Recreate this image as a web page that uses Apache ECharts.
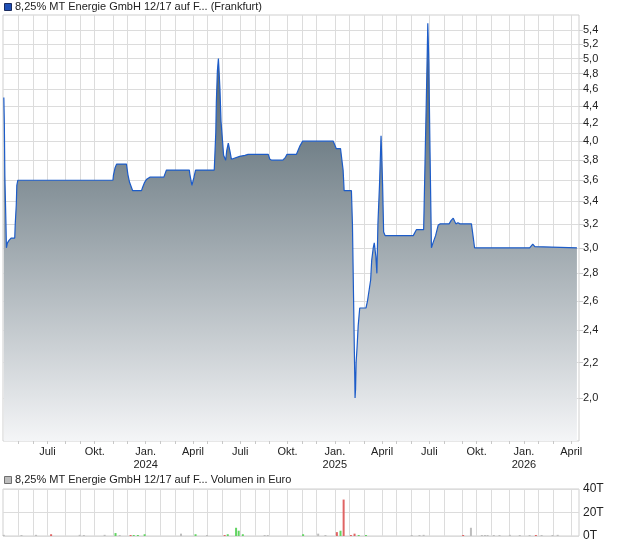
<!DOCTYPE html>
<html>
<head>
<meta charset="utf-8">
<script src="https://cdn.jsdelivr.net/npm/echarts@6/dist/echarts.min.js"></script>
<style>
html,body{margin:0;padding:0;background:#fff;}
#c{width:620px;height:546px;}
</style>
</head>
<body>
<div id="c"></div>
<script>
// ---- price data ----
const priceDates = [
'2023-04-10','2023-04-11','2023-04-12','2023-04-14','2023-04-15','2023-04-17','2023-04-20','2023-04-24','2023-05-01','2023-05-02','2023-05-04','2023-05-05','2023-05-07',
'2023-11-06','2023-11-07','2023-11-10','2023-11-13','2023-12-02','2023-12-05','2023-12-08','2023-12-14','2023-12-31',
'2024-01-02','2024-01-06','2024-01-10','2024-01-16','2024-02-12','2024-02-14','2024-02-17','2024-04-01','2024-04-02','2024-04-06','2024-04-10','2024-04-13','2024-05-19','2024-05-20','2024-05-22','2024-05-23','2024-05-25','2024-05-27','2024-05-28','2024-05-30','2024-06-01','2024-06-04','2024-06-06','2024-06-10','2024-06-12','2024-06-15','2024-06-18','2024-06-21','2024-06-24','2024-07-07','2024-07-17','2024-07-23','2024-08-31','2024-09-03','2024-09-07','2024-09-28','2024-10-03','2024-10-06','2024-10-24','2024-10-25','2024-10-31','2024-11-05',
'2025-01-03','2025-01-09','2025-01-17','2025-01-19','2025-01-22','2025-01-24','2025-02-07','2025-02-09','2025-02-11','2025-02-13','2025-02-14','2025-02-15','2025-02-16','2025-02-18','2025-02-20','2025-02-23','2025-03-07','2025-03-10','2025-03-12','2025-03-16','2025-03-18','2025-03-21','2025-03-23','2025-03-26','2025-03-28','2025-03-30','2025-04-02','2025-04-05','2025-04-08','2025-04-10','2025-04-13','2025-06-06','2025-06-12','2025-06-26','2025-06-27','2025-06-29','2025-07-01','2025-07-03','2025-07-04','2025-07-06','2025-07-08','2025-07-10','2025-07-11','2025-07-14','2025-07-19','2025-07-24','2025-07-28','2025-08-14','2025-08-18','2025-08-22','2025-08-27','2025-08-31','2025-09-04','2025-09-26','2025-09-29','2025-10-02',
'2026-01-16','2026-01-19','2026-01-22','2026-01-26','2026-01-29','2026-04-17'
];
const prices = [
4.5,4.18,3.64,3.22,3.0,3.04,3.06,3.08,3.08,3.2,3.37,3.55,3.6,
3.6,3.65,3.72,3.76,3.76,3.65,3.58,3.5,3.5,
3.53,3.58,3.61,3.63,3.63,3.66,3.7,3.7,3.66,3.55,3.63,3.7,3.7,3.83,4.1,4.44,4.83,5.0,4.87,4.6,4.22,4.0,3.85,3.8,3.9,3.98,3.9,3.81,3.82,3.84,3.85,3.86,3.86,3.81,3.8,3.8,3.83,3.86,3.86,3.88,3.95,4.0,
4.0,3.92,3.92,3.92,3.7,3.5,3.5,3.19,2.65,2.2,2.0,2.05,2.2,2.3,2.43,2.55,2.55,2.6,2.65,2.75,2.9,3.0,3.04,2.93,2.8,3.2,3.55,4.06,3.56,3.13,3.1,3.1,3.15,3.15,3.37,3.87,4.42,5.1,5.5,4.95,4.0,3.3,3.0,3.04,3.1,3.19,3.2,3.2,3.23,3.25,3.2,3.21,3.2,3.2,3.1,3.0,
3.0,3.01,3.03,3.01,3.0,3.0
];

// ---- volume data (thousand euro) ----
const volDates = ['2023-04-10','2023-05-14','2023-06-11','2023-07-10','2023-09-03','2023-09-11','2023-10-21','2023-11-11','2023-11-19','2023-12-10','2023-12-16','2023-12-24',
'2024-01-06','2024-03-16','2024-04-13','2024-05-05','2024-06-08','2024-06-14','2024-06-30','2024-07-05','2024-07-13','2024-08-24','2024-08-30','2024-11-06','2024-12-05','2024-12-19',
'2025-01-10','2025-01-17','2025-01-23','2025-02-06','2025-02-13','2025-02-21','2025-03-07','2025-06-03','2025-06-18','2025-06-26','2025-09-10','2025-09-25','2025-10-16','2025-10-22','2025-10-27','2025-11-08','2025-11-19','2025-12-09','2025-12-28',
'2026-01-16','2026-01-28','2026-02-08','2026-03-01','2026-03-11'];
const volValues = [1,0.5,1,1.5,1,0.5,1,2.5,0.5,0.7,0.5,0.5,
1.5,2,1.5,0.3,0.5,1.5,7,4.5,1.5,0.5,0.5,1.5,2,0.4,
3.3,4.5,31,0.5,2,0.5,0.5,0.5,0.5,1,0.7,7,0.7,0.7,0.5,0.5,0.5,1,0.5,
0.5,0.5,0.5,0.5,1];
const volDir = ['n','n','n','r','n','n','n','g','n','r','g','g',
'g','n','g','n','r','g','g','g','g','n','n','g','n','n',
'r','g','r','r','r','g','g','n','n','n','r','n','n','n','n','n','n','n','n',
'n','r','n','n','n'];

// ---- axis ticks ----
const yTickValues = [2.0,2.2,2.4,2.6,2.8,3.0,3.2,3.4,3.6,3.8,4.0,4.2,4.4,4.6,4.8,5.0,5.2,5.4];
const xLabelDates = ['2023-07-03','2023-10-02','2024-01-08','2024-04-08','2024-07-08','2024-10-07','2025-01-06','2025-04-07','2025-07-07','2025-10-06','2026-01-05','2026-04-06'];
const xLabelTexts = ['Juli','Okt.','Jan.\n2024','April','Juli','Okt.','Jan.\n2025','April','Juli','Okt.','Jan.\n2026','April'];
const monthTickDates = ['2023-05-08','2023-06-05','2023-07-03','2023-08-07','2023-09-04','2023-10-02','2023-11-06','2023-12-04',
'2024-01-08','2024-02-05','2024-03-04','2024-04-08','2024-05-06','2024-06-03','2024-07-08','2024-08-05','2024-09-02','2024-10-07','2024-11-04','2024-12-02',
'2025-01-06','2025-02-03','2025-03-03','2025-04-07','2025-05-05','2025-06-02','2025-07-07','2025-08-04','2025-09-08','2025-10-06','2025-11-03','2025-12-08',
'2026-01-05','2026-02-02','2026-03-02','2026-04-06'];
const volTickValues = [0,20,40];

const ts = d => Date.UTC(+d.slice(0,4), +d.slice(5,7) - 1, +d.slice(8,10));
const xMin = ts('2023-04-08') + 10 * 3600e3;
const xMax = ts('2026-04-21');
const yMin = 0.57712, yMax = 1.7269; // natural log range

const FONT = '"Liberation Sans", Arial, sans-serif';
const labelTs = xLabelDates.map(ts);
const monthTs = monthTickDates.map(ts);

const priceData = priceDates.map((d, i) => [ts(d), Math.log(prices[i])]);
const dirColor = {g: '#62d462', r: '#e06464', n: '#bdbdbd'};
const volData = volDates.map((d, i) => ({value: [ts(d), volValues[i]], itemStyle: {color: dirColor[volDir[i]]}}));

const chart = echarts.init(document.getElementById('c'), null, {renderer: 'canvas'});
chart.setOption({
  animation: false,
  backgroundColor: '#fff',
  textStyle: {fontFamily: FONT},
  grid: [
    {left: 3, right: 41, top: 15, height: 426, show: true, borderColor: '#cfcfcf', borderWidth: 1, backgroundColor: 'transparent'},
    {left: 3, right: 41, top: 489, height: 47, show: true, borderColor: '#cfcfcf', borderWidth: 1, backgroundColor: 'transparent'}
  ],
  xAxis: [
    {type: 'value', gridIndex: 0, min: xMin, max: xMax, scale: true,
     axisLine: {show: false},
     axisTick: {show: true, length: 3, lineStyle: {color: '#c8c8c8'}, customValues: monthTs},
     splitLine: {show: true, lineStyle: {color: '#dcdcdc', width: 1}},
     axisLabel: {customValues: labelTs, margin: 4, color: '#222', fontSize: 11, fontFamily: FONT, lineHeight: 13,
       formatter: function (v) { const i = labelTs.indexOf(v); return i >= 0 ? xLabelTexts[i] : ''; }}
    },
    {type: 'value', gridIndex: 1, min: xMin, max: xMax, scale: true,
     axisLine: {show: false},
     axisTick: {show: false, customValues: monthTs},
     splitLine: {show: true, lineStyle: {color: '#dcdcdc', width: 1}},
     axisLabel: {show: false}
    }
  ],
  yAxis: [
    {type: 'value', gridIndex: 0, position: 'right', min: yMin, max: yMax, scale: true,
     axisLine: {show: false},
     axisTick: {show: true, length: 4, lineStyle: {color: '#cfcfcf'}, customValues: yTickValues.map(Math.log)},
     splitLine: {show: true, lineStyle: {color: '#dcdcdc', width: 1}},
     axisLabel: {customValues: yTickValues.map(Math.log), margin: 4, color: '#222', fontSize: 11, fontFamily: FONT,
       formatter: function (v) { return Math.exp(v).toFixed(1).replace('.', ','); }}
    },
    {type: 'value', gridIndex: 1, position: 'right', min: 0, max: 40, interval: 20,
     axisLine: {show: false},
     axisTick: {show: false},
     splitLine: {show: true, lineStyle: {color: '#dcdcdc', width: 1}},
     axisLabel: {margin: 4, color: '#222', fontSize: 12, fontFamily: FONT, formatter: function (v) { return v + 'T'; }}
    }
  ],
  series: [
    {type: 'line', xAxisIndex: 0, yAxisIndex: 0, data: priceData, showSymbol: false, symbol: 'none',
     lineStyle: {color: '#1d5cc8', width: 1.2},
     areaStyle: {color: new echarts.graphic.LinearGradient(0, 0, 0, 1, [
       {offset: 0, color: '#4a5a64'}, {offset: 0.3, color: '#75838b'}, {offset: 1, color: '#f4f5f7'}]), opacity: 1}
    },
    {type: 'bar', xAxisIndex: 1, yAxisIndex: 1, data: volData, barWidth: 2, barMinHeight: 1}
  ],
  graphic: [
    {type: 'rect', left: 4, top: 3, shape: {width: 7, height: 7}, style: {fill: '#1f4fb5', stroke: '#1b2b5e', lineWidth: 1}},
    {type: 'text', left: 15, top: 1, style: {text: '8,25% MT Energie GmbH 12/17 auf F... (Frankfurt)', fill: '#222', font: '11px ' + FONT}},
    {type: 'text', left: 8, top: 429, style: {text: '1 Tick = 1 Woche', fill: '#a8a8a8', font: '11px ' + FONT}},
    {type: 'rect', left: 4, top: 476, shape: {width: 7, height: 7}, style: {fill: '#bdbdbd', stroke: '#6f6f6f', lineWidth: 1}},
    {type: 'text', left: 15, top: 474, style: {text: '8,25% MT Energie GmbH 12/17 auf F... Volumen in Euro', fill: '#222', font: '11px ' + FONT}}
  ]
});
</script>
</body>
</html>
